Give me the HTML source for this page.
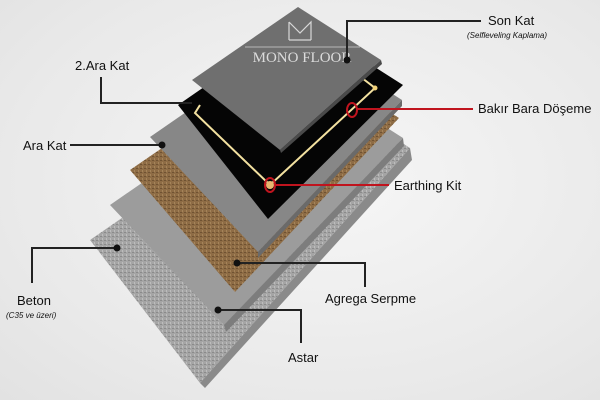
<!DOCTYPE html>
<html><head><meta charset="utf-8"><style>
html,body{margin:0;padding:0}
body{width:600px;height:400px;overflow:hidden;background:radial-gradient(ellipse at 55% 45%,#f6f6f6 0%,#e9e9e9 70%,#e2e2e2 100%);}
svg{display:block}
text{font-family:"Liberation Sans",sans-serif;fill:#111}
</style></head><body>
<svg width="600" height="400" viewBox="0 0 600 400">
<defs>
<pattern id="cr" width="4" height="4" patternUnits="userSpaceOnUse">
<rect width="4" height="4" fill="#a5a5a5"/><rect x="0" y="0" width="2" height="1" fill="#8a8a8a"/><rect x="2" y="2" width="1" height="2" fill="#bdbdbd"/>
</pattern>
<pattern id="br" width="4" height="4" patternUnits="userSpaceOnUse">
<rect width="4" height="4" fill="#8e6c45"/><rect x="0" y="0" width="2" height="1" fill="#6f5232"/><rect x="2" y="2" width="1" height="2" fill="#a5845a"/>
</pattern>
</defs>
<!-- beton -->
<polygon points="90,240 313,86 410,148 200,383" fill="url(#cr)"/>
<polygon points="200,383 410,148 412,160 205,388" fill="#8a8a8a"/>
<!-- astar -->
<polygon points="110,205 301,73 403,138 224,325" fill="#9c9c9c"/>
<polygon points="224,325 403,138 404,146 226,332" fill="#7d7d7d"/>
<!-- agrega -->
<polygon points="130,170 299,54 399,118 235,292" fill="url(#br)"/>
<!-- ara kat -->
<polygon points="150,137 299,34 402,100 258,252" fill="#878787"/>
<polygon points="258,252 402,100 402,106 258,258" fill="#6a6a6a"/>
<!-- black -->
<polygon points="178,105 301,20 403,85 268,219" fill="#050505"/>
<!-- gold wire -->
<polyline points="200,105 195,113 270,185 375,88 362,78" fill="none" stroke="#f3e1a0" stroke-width="2"/>
<circle cx="375" cy="88" r="2.5" fill="#f3d37a"/>
<circle cx="270" cy="185" r="4" fill="#e8b870"/>
<!-- top son kat -->
<polygon points="192,80 298,7 381,60 280,150" fill="#6f6f6f"/>
<polygon points="280,150 381,60 382,64 281,153" fill="#4a4a4a"/>
<!-- logo -->
<g stroke="#d8d8d8" fill="none" stroke-width="1.2">
<path d="M289,22 L289,40 M289,22 L300,33 L311,22 L311,40 M289,40 L311,40"/>
</g>
<text x="302" y="62" text-anchor="middle" style="font-family:'Liberation Serif',serif;font-size:15px;fill:#dcdcdc">MONO FLOOR</text>
<line x1="245" y1="47" x2="360" y2="47" stroke="#cfcfcf" stroke-width="0.8"/>
<!-- connectors black -->
<g stroke="#222" stroke-width="2" fill="none">
<polyline points="347,60 347,21 481,21"/>
<polyline points="101,77 101,103 192,103"/>
<polyline points="70,145 162,145"/>
<polyline points="32,283 32,248 117,248"/>
<polyline points="237,263 365,263 365,287"/>
<polyline points="218,310 301,310 301,343"/>
</g>
<g fill="#111">
<circle cx="347" cy="60" r="3.5"/><circle cx="162" cy="145" r="3.5"/><circle cx="117" cy="248" r="3.5"/>
<circle cx="237" cy="263" r="3.5"/><circle cx="218" cy="310" r="3.5"/>
</g>
<!-- red -->
<g stroke="#c0141e" stroke-width="2" fill="none">
<line x1="357" y1="109" x2="473" y2="109"/>
<ellipse cx="352" cy="110" rx="5" ry="7"/>
<line x1="276" y1="185" x2="389" y2="185"/>
<ellipse cx="270" cy="185" rx="5" ry="7"/>
</g>
<!-- labels -->
<text x="488" y="25" font-size="13">Son Kat</text>
<text x="467" y="38" font-size="8" font-style="italic">(Selfleveling Kaplama)</text>
<text x="478" y="113" font-size="13">Bakır Bara Döşeme</text>
<text x="394" y="190" font-size="13">Earthing Kit</text>
<text x="75" y="70" font-size="13">2.Ara Kat</text>
<text x="23" y="150" font-size="13">Ara Kat</text>
<text x="17" y="305" font-size="13">Beton</text>
<text x="6" y="318" font-size="8" font-style="italic">(C35 ve üzeri)</text>
<text x="325" y="303" font-size="13">Agrega Serpme</text>
<text x="288" y="362" font-size="13">Astar</text>
</svg>
</body></html>
